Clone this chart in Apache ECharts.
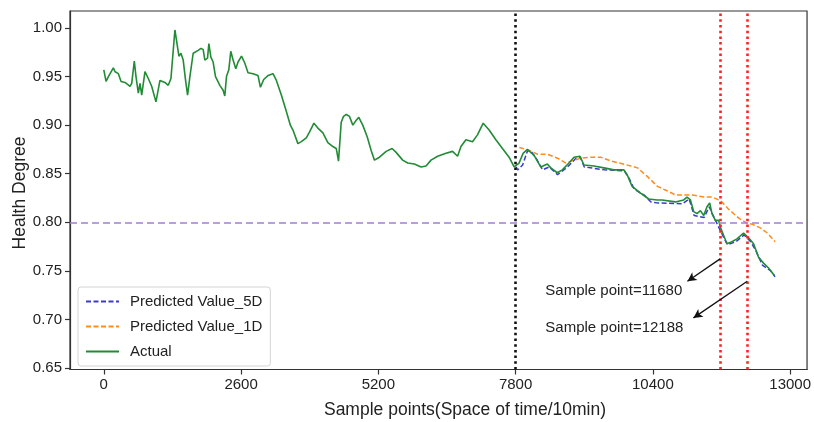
<!DOCTYPE html>
<html>
<head>
<meta charset="utf-8">
<script src="https://cdn.jsdelivr.net/npm/echarts@6/dist/echarts.min.js"></script>
<style>html,body{margin:0;padding:0;background:#fff}#c{width:814px;height:422px}</style>
</head>
<body>
<div id="c"></div>
<script>
// ---- data ----
const actualX = [0,43,87,119,181,214,246,276,327,402,497,529,578,610,654,686,718,780,843,907,988,1064,1158,1221,1272,1347,1423,1461,1504,1549,1587,1631,1693,1788,1839,1882,1914,1965,1990,2028,2071,2116,2198,2260,2292,2324,2368,2405,2449,2500,2543,2608,2670,2732,2827,2921,2967,3029,3110,3205,3269,3363,3458,3534,3583,3677,3741,3836,3898,3980,4055,4150,4244,4339,4403,4446,4497,4541,4592,4654,4717,4781,4830,4905,4989,5064,5127,5221,5348,5461,5537,5661,5756,5882,6009,6103,6198,6323,6481,6606,6701,6765,6859,6984,7078,7186,7299,7426,7551,7677,7772,7804,7866,7942,8023,8055,8150,8276,8401,8466,8590,8685,8811,8906,9019,9095,9284,9473,9662,9851,9913,10007,10166,10323,10480,10574,10827,10984,11047,11111,11174,11236,11300,11363,11425,11476,11519,11583,11646,11678,11722,11803,11897,11992,12118,12213,12307,12402,12496,12591,12704];
const actualY = [0.957,0.945,0.950,0.949,0.959,0.955,0.957,0.953,0.945,0.944,0.940,0.943,0.966,0.950,0.933,0.943,0.931,0.955,0.948,0.940,0.924,0.946,0.944,0.941,0.948,0.998,0.971,0.974,0.967,0.946,0.931,0.950,0.974,0.977,0.979,0.978,0.967,0.969,0.984,0.970,0.965,0.950,0.941,0.936,0.930,0.950,0.957,0.976,0.967,0.958,0.965,0.971,0.964,0.954,0.953,0.951,0.939,0.947,0.951,0.953,0.946,0.931,0.914,0.900,0.895,0.881,0.883,0.887,0.893,0.902,0.897,0.892,0.882,0.878,0.876,0.863,0.903,0.909,0.911,0.909,0.900,0.905,0.908,0.900,0.888,0.874,0.864,0.867,0.873,0.876,0.872,0.864,0.861,0.860,0.857,0.858,0.864,0.868,0.871,0.873,0.868,0.878,0.885,0.883,0.890,0.902,0.895,0.885,0.876,0.867,0.857,0.857,0.861,0.871,0.875,0.875,0.869,0.857,0.860,0.856,0.851,0.854,0.861,0.867,0.868,0.859,0.858,0.856,0.854,0.854,0.849,0.837,0.830,0.824,0.823,0.823,0.821,0.823,0.826,0.823,0.811,0.809,0.812,0.807,0.816,0.820,0.809,0.802,0.802,0.795,0.789,0.778,0.780,0.783,0.789,0.784,0.778,0.764,0.758,0.753,0.745];

const pred1DX = [7871,8060,8217,8406,8595,8754,8849,9038,9227,9416,9606,9763,9984,10109,10298,10487,10646,10835,11150,11371,11528,11687,11844,12033,12190,12285,12444,12569,12714];
const pred1DY = [0.877,0.874,0.870,0.870,0.866,0.861,0.863,0.866,0.867,0.867,0.863,0.861,0.858,0.856,0.847,0.837,0.833,0.828,0.828,0.826,0.826,0.822,0.813,0.804,0.799,0.798,0.794,0.789,0.780];

const pred5DX = [7808,7839,7933,8028,8092,8187,8312,8438,8595,8785,8943,9025,9101,9480,9858,9952,10047,10236,10363,10487,10960,11087,11182,11276,11371,11466,11560,11717,11812,11971,12128,12254,12349,12474,12633,12714];
const pred5DY = [0.857,0.854,0.859,0.874,0.873,0.866,0.854,0.857,0.849,0.857,0.866,0.867,0.857,0.854,0.853,0.845,0.834,0.828,0.821,0.820,0.819,0.824,0.807,0.806,0.805,0.816,0.805,0.787,0.777,0.780,0.787,0.780,0.771,0.756,0.750,0.744];

const xTicks = [0,2600,5200,7800,10400,13000];
const yTicks = [0.65,0.70,0.75,0.80,0.85,0.90,0.95,1.00];
const splitX = 7800;
const faultPoints = [11680,12188];
const threshold = 0.798;
const annotTexts = ['Sample point=11680','Sample point=12188'];
// arrows: [fromX, fromY, toX, toY]
const arrows = [[11680,0.7626,11055,0.7393],[12188,0.7393,11168,0.7016]];
const annotAnchors = [[8363,0.7297],[8363,0.6917]];

const zip = (xs, ys) => xs.map((x, i) => [x, ys[i]]);
const FONT = "'Liberation Sans', Arial, sans-serif";

const chart = echarts.init(document.getElementById('c'), null, {renderer: 'canvas'});
const axisCol = '#333';

const option = {
  animation: false,
  backgroundColor: '#fff',
  textStyle: {fontFamily: FONT},
  grid: {left: 70, right: 6, top: 11, bottom: 52.5, show: true, borderColor: axisCol, borderWidth: 1.2, containLabel: false},
  xAxis: {
    type: 'value', min: -640, max: 13320,
    axisLine: {show: true, onZero: false, lineStyle: {color: axisCol, width: 1.2}},
    axisTick: {show: true, inside: false, length: 5, lineStyle: {color: axisCol, width: 1.2}, customValues: xTicks},
    axisLabel: {color: '#222', fontSize: 15, fontFamily: FONT, margin: 8, customValues: xTicks, formatter: v => String(v)},
    splitLine: {show: false}
  },
  yAxis: {
    type: 'value', min: 0.6485, max: 1.0175,
    axisLine: {show: true, onZero: false, lineStyle: {color: axisCol, width: 1.2}},
    axisTick: {show: true, inside: false, length: 5, lineStyle: {color: axisCol, width: 1.2}, customValues: yTicks},
    axisLabel: {color: '#222', fontSize: 15, fontFamily: FONT, margin: 8, customValues: yTicks, formatter: v => v.toFixed(2)},
    splitLine: {show: false}
  },
  legend: {
    orient: 'vertical', left: 78, top: 287,
    padding: [7, 8, 7, 7], itemGap: 10, itemWidth: 33, itemHeight: 14,
    backgroundColor: 'rgba(255,255,255,0.9)', borderColor: '#d4d4d4', borderWidth: 1, borderRadius: 3,
    itemStyle: {opacity: 0},
    textStyle: {fontSize: 15, color: '#222', fontFamily: FONT, lineHeight: 14, padding: [0, 0, 0, 6]},
    data: ['Predicted Value_5D', 'Predicted Value_1D', 'Actual']
  },
  series: [
    {
      name: 'Predicted Value_5D', type: 'line', symbol: 'none', showSymbol: false,
      data: zip(pred5DX, pred5DY),
      lineStyle: {color: '#3a3ad0', width: 1.5, type: [5, 2.5]}, itemStyle: {color: '#3a3ad0'}, z: 3
    },
    {
      name: 'Predicted Value_1D', type: 'line', symbol: 'none', showSymbol: false,
      data: zip(pred1DX, pred1DY),
      lineStyle: {color: '#ff8c1a', width: 1.5, type: [5, 2.5]}, itemStyle: {color: '#ff8c1a'}, z: 3
    },
    {
      name: 'Actual', type: 'line', symbol: 'none', showSymbol: false,
      data: zip(actualX, actualY),
      lineStyle: {color: '#228b35', width: 1.6}, itemStyle: {color: '#228b35'}, z: 4
    },
    {
      name: 'refs', type: 'line', data: [], z: 5,
      markLine: {
        silent: true, symbol: ['none', 'none'], animation: false,
        label: {show: false},
        data: [
          {xAxis: splitX, lineStyle: {color: '#111', width: 2.6, type: [2.5, 3.2]}},
          {xAxis: faultPoints[0], lineStyle: {color: '#ff2020', width: 2.6, type: [2.5, 3.2]}},
          {xAxis: faultPoints[1], lineStyle: {color: '#ff2020', width: 2.6, type: [2.5, 3.2]}},
          {yAxis: threshold, lineStyle: {color: '#a07fd2', width: 1.6, type: [7, 4]}}
        ]
      }
    },
    {
      name: 'arrows', type: 'line', data: [], z: 6,
      markLine: {
        silent: true, symbol: ['none', 'arrow'], symbolSize: [7, 9], animation: false,
        label: {show: false},
        lineStyle: {color: '#111', width: 1.3, type: 'solid'},
        data: arrows.map(a => [{coord: [a[0], a[1]]}, {coord: [a[2], a[3]]}])
      }
    }
  ]
};
chart.setOption(option);

const g = annotTexts.map((t, i) => {
  const p = chart.convertToPixel({gridIndex: 0}, annotAnchors[i]);
  return {type: 'text', x: p[0], y: p[1], z: 10,
    style: {text: t, fontSize: 15, fontFamily: FONT, fill: '#222', align: 'left', verticalAlign: 'middle'}};
});
g.push({type: 'text', x: 465, y: 410, z: 10,
  style: {text: 'Sample points(Space of time/10min)', fontSize: 17.5, fontFamily: FONT, fill: '#222', align: 'center', verticalAlign: 'middle'}});
g.push({type: 'text', x: 20, y: 193, rotation: Math.PI / 2, z: 10,
  style: {text: 'Health Degree', fontSize: 17.5, fontFamily: FONT, fill: '#222', align: 'center', verticalAlign: 'middle'}});
chart.setOption({graphic: g});
</script>
</body>
</html>
